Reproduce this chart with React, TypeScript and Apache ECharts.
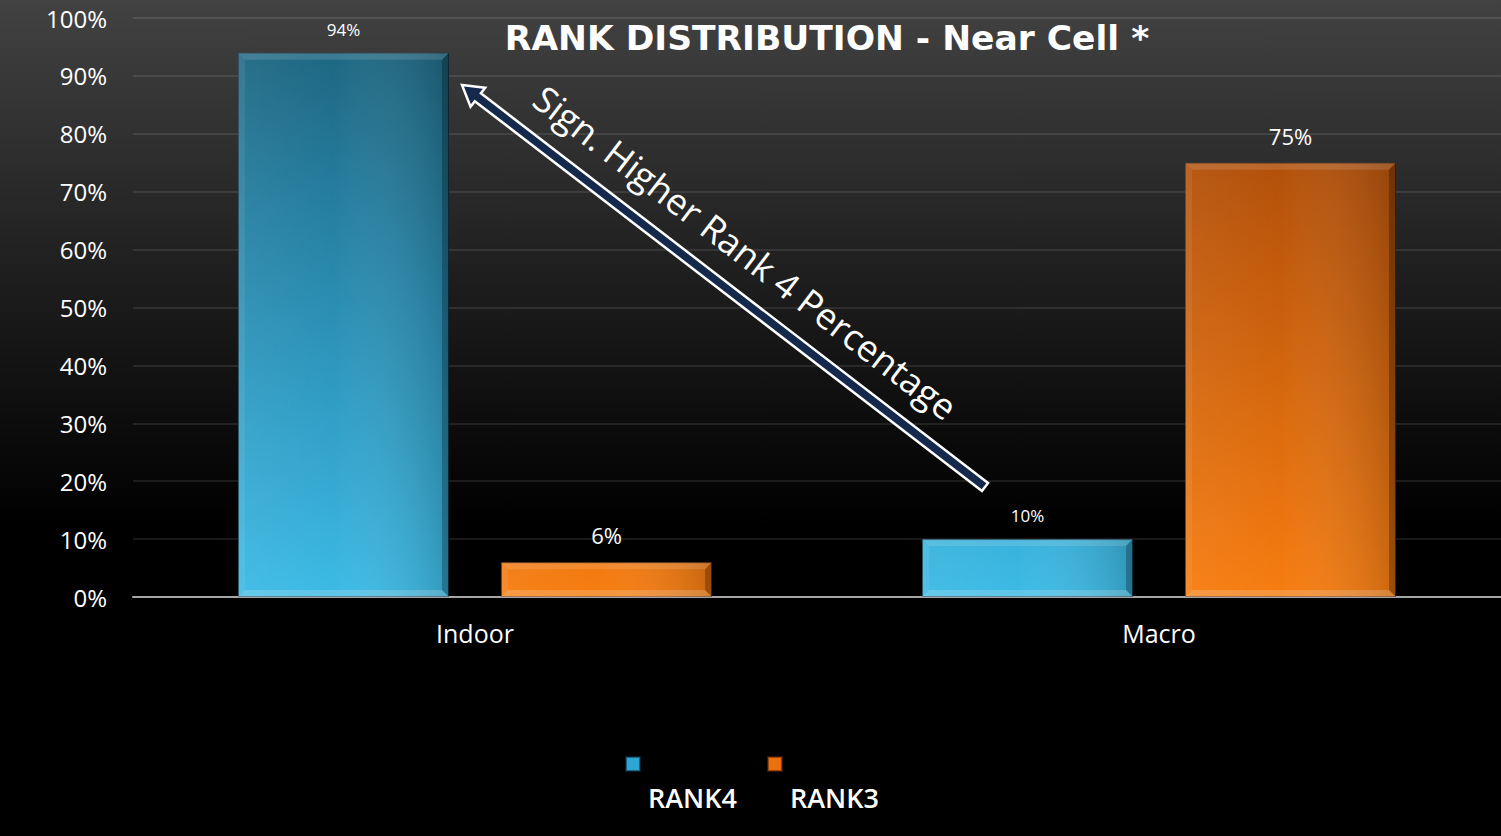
import React, { useEffect, useRef } from "react";
import * as echarts from "echarts";

const categories = ["Indoor", "Macro"];
const rank4 = [94, 10];
const rank3 = [6, 75];
const yTicks = [0, 10, 20, 30, 40, 50, 60, 70, 80, 90, 100];

const FONT = "Open Sans";
const BAR_W = 211;
const BAR_GAP = 52;
const BEVEL = 7;

// annotation arrow, tail to tip, in pixels
const arrowTail = [985, 487];
const arrowTip = [462, 85];

function arrowPoints(tail: number[], tip: number[], w: number, headLen: number, headHalf: number) {
  const dx = tip[0] - tail[0];
  const dy = tip[1] - tail[1];
  const len = Math.hypot(dx, dy);
  const ux = dx / len, uy = dy / len;
  const nx = -uy, ny = ux;
  const bx = tip[0] - ux * headLen, by = tip[1] - uy * headLen;
  return [
    [tip[0], tip[1]],
    [bx + nx * headHalf, by + ny * headHalf],
    [bx + nx * w, by + ny * w],
    [tail[0] + nx * w, tail[1] + ny * w],
    [tail[0] - nx * w, tail[1] - ny * w],
    [bx - nx * w, by - ny * w],
    [bx - nx * headHalf, by - ny * headHalf],
  ];
}

// bevel overlay for each bar: [category index, value, side (-1 RANK4, +1 RANK3)]
const bevelData = categories.flatMap((_, i) => [
  [i, rank4[i], -1],
  [i, rank3[i], 1],
]);

function renderBevel(_params: any, api: any) {
  const i = api.value(0);
  const v = api.value(1);
  const side = api.value(2);
  const base = api.coord([i, 0]);
  const top = api.coord([i, v]);
  const cx = base[0] + (side * (BAR_W + BAR_GAP)) / 2;
  const x0 = cx - BAR_W / 2;
  const x1 = cx + BAR_W / 2;
  const y0 = top[1];
  const y1 = base[1];
  const b = Math.min(BEVEL, (y1 - y0) / 2);
  return {
    type: "group",
    silent: true,
    children: [
      {
        type: "rect",
        shape: { x: x0, y: y0, width: BAR_W, height: y1 - y0 },
        style: {
          fill: new echarts.graphic.LinearGradient(0, 0, 1, 0, [
            { offset: 0, color: "rgba(255,255,255,0.05)" },
            { offset: 0.45, color: "rgba(255,255,255,0)" },
            { offset: 1, color: "rgba(0,0,0,0.18)" },
          ]),
        },
      },
      {
        type: "polygon",
        shape: { points: [[x0, y0], [x1, y0], [x1 - b, y0 + b], [x0 + b, y0 + b]] },
        style: { fill: "rgba(255,255,255,0.13)" },
      },
      {
        type: "polygon",
        shape: { points: [[x1, y0], [x1, y1], [x1 - b, y1 - b], [x1 - b, y0 + b]] },
        style: { fill: "rgba(0,0,0,0.25)" },
      },
      {
        type: "polygon",
        shape: { points: [[x0, y1], [x1, y1], [x1 - b, y1 - b], [x0 + b, y1 - b]] },
        style: { fill: "rgba(255,255,255,0.18)" },
      },
      {
        type: "polygon",
        shape: { points: [[x0, y0], [x0, y1], [x0 + b, y1 - b], [x0 + b, y0 + b]] },
        style: { fill: "rgba(255,255,255,0.07)" },
      },
    ],
  };
}

export default function App() {
  const ref = useRef<HTMLDivElement>(null);
  useEffect(() => {
    if (!ref.current) return;
    const chart = echarts.init(ref.current, null, { renderer: "svg" });

    const blueFill = new echarts.graphic.LinearGradient(0, 0, 0, 600, [
      { offset: 0, color: "#1b5f78" },
      { offset: 0.5, color: "#2a8db2" },
      { offset: 1, color: "#3cbbe6" },
    ], true);
    const orangeFill = new echarts.graphic.LinearGradient(0, 0, 0, 600, [
      { offset: 0, color: "#8a3c04" },
      { offset: 0.3, color: "#b5520a" },
      { offset: 1, color: "#f77d10" },
    ], true);

    const dx = arrowTip[0] - arrowTail[0];
    const dy = arrowTip[1] - arrowTail[1];
    const len = Math.hypot(dx, dy);
    const ux = dx / len, uy = dy / len;
    const nx = -uy, ny = ux; // normal pointing up-right
    const midX = (arrowTip[0] + arrowTail[0]) / 2;
    const midY = (arrowTip[1] + arrowTail[1]) / 2;
    const angle = Math.atan2(-dy, -dx); // reading direction tip -> tail

    chart.setOption({
      animation: false,
      backgroundColor: new echarts.graphic.LinearGradient(0, 0, 0, 1, [
        { offset: 0, color: "#424242" },
        { offset: 0.35, color: "#1c1c1c" },
        { offset: 0.63, color: "#000000" },
        { offset: 1, color: "#000000" },
      ]),
      title: {
        text: "RANK DISTRIBUTION - Near Cell *",
        left: 822,
        top: 15,
        textAlign: "center",
        textStyle: { color: "#ffffff", fontFamily: "DejaVu Sans", fontWeight: "bold", fontSize: 34.5 },
      },
      grid: { left: 133, right: 0, top: 18, bottom: 239, containLabel: false },
      xAxis: {
        type: "category",
        data: categories,
        axisLine: { lineStyle: { color: "#a6a6a6", width: 2 } },
        axisTick: { show: false },
        axisLabel: { color: "#ffffff", fontSize: 25, fontFamily: FONT, margin: 23 },
      },
      yAxis: {
        type: "value",
        min: yTicks[0],
        max: yTicks[yTicks.length - 1],
        interval: 10,
        axisLine: { show: false },
        axisTick: { show: false },
        axisLabel: { color: "#ffffff", fontSize: 24, fontFamily: FONT, margin: 26, formatter: "{value}%" },
        splitLine: { lineStyle: { color: "rgba(255,255,255,0.13)", width: 1.5 } },
      },
      legend: {
        left: 620,
        top: 751,
        itemWidth: 14,
        itemHeight: 14,
        itemGap: 30,
        icon: "rect",
        data: [
          { name: "RANK4", itemStyle: { color: "#2ea6d3" } },
          { name: "RANK3", itemStyle: { color: "#ec700c" } },
        ],
        formatter: (n: string) => `{t|${n}}`,
        textStyle: {
          rich: {
            t: { color: "#ffffff", fontSize: 27, fontFamily: FONT, fontWeight: 600, padding: [66, 0, 0, 3] },
          },
        },
      },
      series: [
        {
          name: "RANK4",
          type: "bar",
          data: rank4,
          barWidth: BAR_W,
          barGap: `${(BAR_GAP / BAR_W) * 100}%`,
          itemStyle: { color: blueFill, borderColor: "rgba(10,50,70,0.6)", borderWidth: 1 },
          label: {
            show: true,
            position: "top",
            distance: 15,
            formatter: "{c}%",
            color: "#ffffff",
            fontSize: 17,
            fontFamily: FONT,
          },
        },
        {
          name: "RANK3",
          type: "bar",
          data: rank3,
          barWidth: BAR_W,
          itemStyle: { color: orangeFill, borderColor: "rgba(90,35,0,0.6)", borderWidth: 1 },
          label: {
            show: true,
            position: "top",
            distance: 16,
            formatter: "{c}%",
            color: "#ffffff",
            fontSize: 22,
            fontFamily: FONT,
          },
        },
        {
          name: "bevel",
          type: "custom",
          data: bevelData,
          renderItem: renderBevel,
          silent: true,
          z: 3,
        },
      ],
      graphic: [
        {
          type: "polygon",
          shape: { points: arrowPoints(arrowTail, arrowTip, 5, 20, 12) },
          style: { fill: "#14294b", stroke: "#ffffff", lineWidth: 2.5 },
          z: 100,
        },
        {
          type: "text",
          x: midX + nx * 40 + ux * 3,
          y: midY + ny * 40 + uy * 3,
          rotation: -angle,
          style: {
            text: "Sign. Higher Rank 4 Percentage",
            fill: "#ffffff",
            font: `36px '${FONT}'`,
            align: "center",
            verticalAlign: "middle",
          },
          z: 100,
        },
      ],
    });
    return () => chart.dispose();
  }, []);
  return (
    <div
      ref={ref}
      style={{ position: "absolute", left: 0, top: 0, width: 1501, height: 836 }}
    />
  );
}
